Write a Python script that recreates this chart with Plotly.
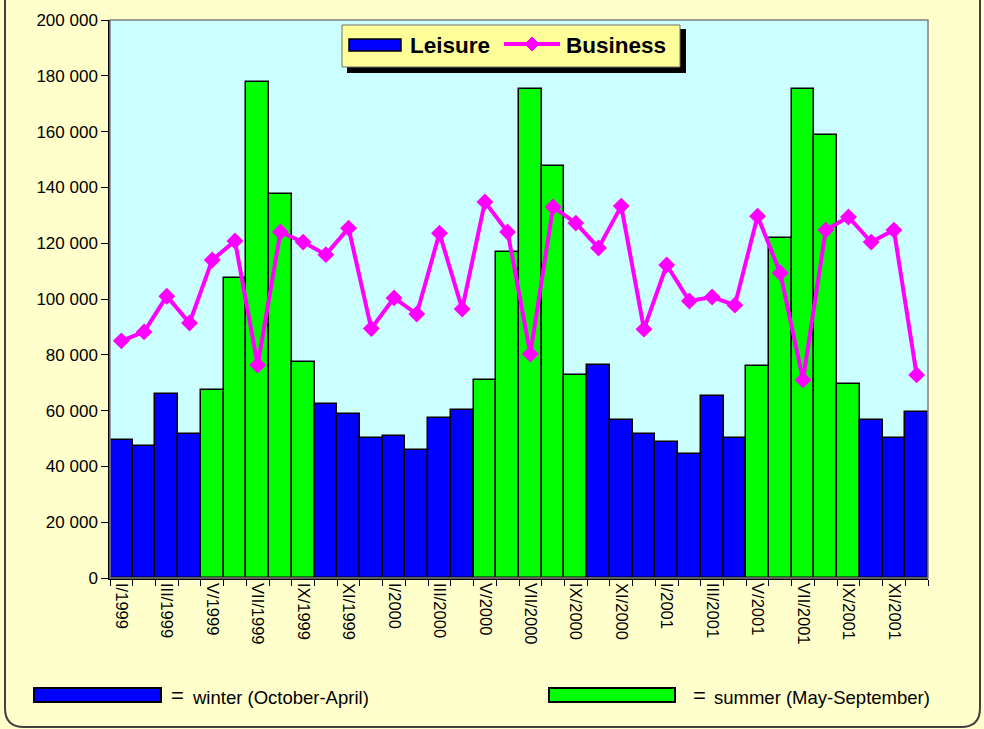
import plotly.graph_objects as go

# ---------------- data ----------------
months = ["I", "II", "III", "IV", "V", "VI", "VII", "VIII", "IX", "X", "XI", "XII"]
years = ["1999", "2000", "2001"]
categories = [f"{m}/{y}" for y in years for m in months]

leisure = [49500, 47300, 66000, 51600, 67400, 107500, 177800, 137600, 77400, 62400, 58800, 50200,
           50900, 45900, 57300, 60200, 71000, 116800, 175300, 147500, 72900, 76500, 56600, 51600,
           48700, 44400, 65200, 50200, 76000, 121700, 175300, 158800, 69500, 56600, 50200, 59500]

business = [85000, 88200, 101000, 91400, 114000, 120800, 76300, 124000, 120400, 115900, 125400, 89400,
            100400, 94600, 123600, 96400, 134800, 124000, 80300, 133000, 127200, 118300, 133300, 89200,
            112200, 99300, 100700, 97800, 129700, 109300, 71000, 124700, 129400, 120400, 124700, 72800]

summer_months = ["V", "VI", "VII", "VIII", "IX"]

y_ticks = list(range(0, 200001, 20000))

# ---------------- styling ----------------
BLUE = "#0000FF"
GREEN = "#00FF00"
MAGENTA = "#FF00FF"
FONT = "Liberation Sans, Arial, sans-serif"

W, H = 984, 729
L, R, T, B = 110, 928, 20, 578


def px(x):
    return (x - L) / (R - L)


def py(y):
    return (B - y) / (B - T)


x_idx = list(range(len(categories)))
bar_colors = [GREEN if c.split("/")[0] in summer_months else BLUE for c in categories]

fig = go.Figure()
fig.add_trace(go.Bar(
    x=x_idx, y=leisure, name="Leisure",
    marker=dict(color=bar_colors, line=dict(color="black", width=1.5)),
    width=1.0,
))
fig.add_trace(go.Scatter(
    x=x_idx, y=business, name="Business", mode="lines+markers",
    line=dict(color=MAGENTA, width=4),
    marker=dict(symbol="diamond", size=13, color=MAGENTA),
))

shapes = []
# plot area frame (gray top/right)
shapes.append(dict(type="rect", xref="paper", yref="paper", x0=0, x1=1, y0=0, y1=1,
                   line=dict(color="#808080", width=1.5), layer="above"))
# outer rounded border
x0, x1 = px(5), px(980)
ytop, ycurve, ybot = py(-20), py(708), py(727)
xc0, xc1 = px(24), px(961)
shapes.append(dict(type="path", xref="paper", yref="paper",
                   path=f"M {x0},{ytop} L {x0},{ycurve} Q {x0},{ybot} {xc0},{ybot} "
                        f"L {xc1},{ybot} Q {x1},{ybot} {x1},{ycurve} L {x1},{ytop}",
                   line=dict(color="#404040", width=2)))
# top legend: shadow + box
shapes.append(dict(type="rect", xref="paper", yref="paper", x0=px(347), x1=px(686), y0=py(73), y1=py(29),
                   fillcolor="black", line=dict(width=0), layer="above"))
shapes.append(dict(type="rect", xref="paper", yref="paper", x0=px(342), x1=px(680), y0=py(67), y1=py(25),
                   fillcolor="#FFFF99", line=dict(color="#707070", width=1), layer="above"))
shapes.append(dict(type="rect", xref="paper", yref="paper", x0=px(349), x1=px(401), y0=py(51), y1=py(39),
                   fillcolor=BLUE, line=dict(color="black", width=1.5), layer="above"))
shapes.append(dict(type="line", xref="paper", yref="paper", x0=px(504), x1=px(560), y0=py(44), y1=py(44),
                   line=dict(color=MAGENTA, width=4), layer="above"))
shapes.append(dict(type="path", xref="paper", yref="paper",
                   path=f"M {px(532)},{py(37)} L {px(539)},{py(44)} L {px(532)},{py(51)} L {px(525)},{py(44)} Z",
                   fillcolor=MAGENTA, line=dict(color=MAGENTA, width=1), layer="above"))
# bottom season legend
shapes.append(dict(type="rect", xref="paper", yref="paper", x0=px(34), x1=px(161), y0=py(702), y1=py(688),
                   fillcolor=BLUE, line=dict(color="black", width=2)))
shapes.append(dict(type="rect", xref="paper", yref="paper", x0=px(549), x1=px(675), y0=py(702), y1=py(688),
                   fillcolor=GREEN, line=dict(color="black", width=2)))


def ann(text, x, y, size, bold=False):
    return dict(text=f"<b>{text}</b>" if bold else text, x=px(x), y=py(y), xref="paper", yref="paper",
                xanchor="left", yanchor="middle", showarrow=False,
                font=dict(family=FONT, size=size, color="black"))


annotations = [
    ann("Leisure", 408, 45, 22.5, True),
    ann("Business", 564, 45, 22.5, True),
    ann("=", 169, 695, 22),
    ann("winter (October-April)", 190, 697, 18.5),
    ann("=", 691, 695, 22),
    ann("summer (May-September)", 712, 697, 18.5),
]

fig.update_layout(
    width=W, height=H,
    margin=dict(l=L, r=W - R, t=T, b=H - B, pad=0),
    paper_bgcolor="#FFFFCC",
    plot_bgcolor="#CCFFFF",
    showlegend=False,
    bargap=0,
    separators=". ",
    shapes=shapes,
    annotations=annotations,
    font=dict(family=FONT, color="black"),
)
fig.update_xaxes(
    range=[-0.5, len(categories) - 0.5],
    tickmode="array",
    tickvals=x_idx[::2],
    ticktext=categories[::2],
    tickangle=90,
    ticks="outside", ticklen=0,
    tickfont=dict(family=FONT, size=16.5, color="black"),
    showline=True, linecolor="black", linewidth=1.5,
    showgrid=False, zeroline=False,
    minor=dict(tick0=-0.5, dtick=1, ticks="outside", ticklen=6, tickcolor="black", showgrid=False),
)
fig.update_yaxes(
    range=[0, 200000],
    tickmode="array",
    tickvals=y_ticks,
    tickformat=",d",
    ticks="outside", ticklen=7, tickcolor="black",
    tickfont=dict(family=FONT, size=17, color="black"),
    showline=True, linecolor="black", linewidth=1.5,
    showgrid=False, zeroline=False,
)

fig.write_html(
    "out.html",
    config={"displayModeBar": False},
    post_script="document.body.style.margin='0';document.body.style.overflow='hidden';",
)
